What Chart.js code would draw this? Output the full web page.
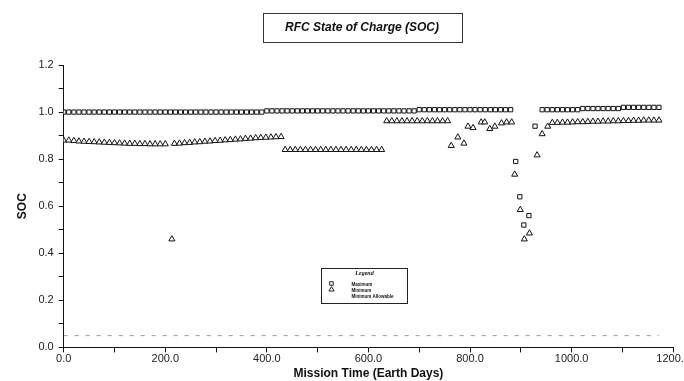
<!DOCTYPE html>
<html>
<head>
<meta charset="utf-8">
<script src="https://cdn.jsdelivr.net/npm/chart.js@4.4.1/dist/chart.umd.min.js"></script>
<style>
  html, body { margin: 0; padding: 0; background: #fff; overflow: hidden; }
  #wrap { width: 690px; height: 381px; }
</style>
</head>
<body>
<div id="wrap"><canvas id="socChart"></canvas></div>
<script>
// values (days, state of charge)
const maxDays = [
  0, 10, 20, 30, 40, 50, 60, 70, 80, 90, 100, 110, 120, 130, 140, 150, 160, 170, 180, 190,
  200, 210, 220, 230, 240, 250, 260, 270, 280, 290, 300, 310, 320, 330, 340, 350, 360, 370, 380, 390,
  400, 410, 420, 430, 440, 450, 460, 470, 480, 490, 500, 510, 520, 530, 540, 550, 560, 570, 580, 590,
  600, 610, 620, 630, 640, 650, 660, 670, 680, 690, 700, 710, 720, 730, 740, 750, 760, 770, 780, 790,
  800, 810, 820, 830, 840, 850, 860, 870, 880,
  890, 898, 906, 916, 928,
  942, 952, 962, 972, 982, 992, 1002, 1012, 1022, 1032, 1042, 1052, 1062, 1072, 1082, 1092,
  1102, 1112, 1122, 1132, 1142, 1152, 1162, 1172
];
const maxSoc = [
  1.0, 1.0, 1.0, 1.0, 1.0, 1.0, 1.0, 1.0, 1.0, 1.0, 1.0, 1.0, 1.0, 1.0, 1.0, 1.0, 1.0, 1.0, 1.0, 1.0,
  1.0, 1.0, 1.0, 1.0, 1.0, 1.0, 1.0, 1.0, 1.0, 1.0, 1.0, 1.0, 1.0, 1.0, 1.0, 1.0, 1.0, 1.0, 1.0, 1.0,
  1.005, 1.005, 1.005, 1.005, 1.005, 1.005, 1.005, 1.005, 1.005, 1.005, 1.005, 1.005, 1.005, 1.005, 1.005, 1.005, 1.005, 1.005, 1.005, 1.005,
  1.005, 1.005, 1.005, 1.005, 1.005, 1.005, 1.005, 1.005, 1.005, 1.005, 1.01, 1.01, 1.01, 1.01, 1.01, 1.01, 1.01, 1.01, 1.01, 1.01,
  1.01, 1.01, 1.01, 1.01, 1.01, 1.01, 1.01, 1.01, 1.01,
  0.79, 0.64, 0.52, 0.56, 0.94,
  1.01, 1.01, 1.01, 1.01, 1.01, 1.01, 1.01, 1.01, 1.015, 1.015, 1.015, 1.015, 1.015, 1.015, 1.015, 1.015,
  1.02, 1.02, 1.02, 1.02, 1.02, 1.02, 1.02, 1.02
];
const minDays = [
  0, 10, 20, 30, 40, 50, 60, 70, 80, 90, 100, 110, 120, 130, 140, 150, 160, 170, 180, 190, 200,
  213,
  218, 228, 238, 248, 258, 268, 278, 288, 298, 308, 318, 328, 338, 348, 358, 368, 378, 388, 398, 408, 418, 428,
  436, 446, 456, 466, 476, 486, 496, 506, 516, 526, 536, 546, 556, 566, 576, 586, 596, 606, 616, 626,
  636, 646, 656, 666, 676, 686, 696, 706, 716, 726, 736, 746, 756,
  763, 776, 788, 796, 806, 822, 829, 839, 849, 862, 872, 882,
  888, 899, 907, 917, 932, 942, 953,
  962, 972, 982, 992, 1002, 1012, 1022, 1032, 1042, 1052, 1062, 1072, 1082, 1092, 1102, 1112,
  1122, 1132, 1142, 1152, 1162, 1172
];
const minSoc = [
  0.88, 0.88, 0.878, 0.876, 0.875, 0.874, 0.873, 0.872, 0.871, 0.87, 0.869, 0.868, 0.867, 0.866, 0.866, 0.865, 0.865, 0.864, 0.864, 0.864, 0.864,
  0.46,
  0.866, 0.867, 0.869, 0.87, 0.872, 0.873, 0.875, 0.876, 0.878, 0.879, 0.881, 0.882, 0.884, 0.885, 0.887, 0.888, 0.89, 0.891, 0.892, 0.893, 0.894, 0.895,
  0.84, 0.84, 0.84, 0.84, 0.84, 0.84, 0.84, 0.84, 0.84, 0.84, 0.84, 0.84, 0.84, 0.84, 0.84, 0.84, 0.84, 0.84, 0.84, 0.84,
  0.962, 0.962, 0.962, 0.962, 0.962, 0.962, 0.962, 0.962, 0.962, 0.962, 0.962, 0.962, 0.962,
  0.857, 0.893, 0.867, 0.939, 0.933, 0.957, 0.957, 0.929, 0.939, 0.953, 0.957, 0.957,
  0.735, 0.585, 0.46, 0.485, 0.817, 0.907, 0.939,
  0.955, 0.955, 0.956, 0.956, 0.957, 0.958, 0.958, 0.959, 0.96, 0.96, 0.961, 0.961, 0.962, 0.962, 0.963, 0.963,
  0.964, 0.964, 0.965, 0.965, 0.965, 0.965
];
const allowDays = [0, 1172];
const allowSoc = [0.05, 0.05];

const seriesNames = ['Maximum', 'Minimum', 'Minimum Allowable'];
const chartTitle = 'RFC State of Charge (SOC)';

function pts(xs, ys) {
  return xs.map((d, i) => ({ x: d, y: ys[i] }));
}

// boxed title at the top
const titleBox = {
  id: 'titleBox',
  afterDraw(chart) {
    const ctx = chart.ctx;
    ctx.save();
    ctx.font = 'italic bold 12px "Liberation Sans", Arial, sans-serif';
    ctx.fillStyle = '#111';
    ctx.textAlign = 'center';
    ctx.textBaseline = 'middle';
    ctx.fillText(chartTitle, 362, 28);
    ctx.strokeStyle = '#333';
    ctx.lineWidth = 1;
    ctx.strokeRect(263.5, 13.5, 199, 29);
    ctx.restore();
  }
};

// small legend box inside the plot
const legendBox = {
  id: 'legendBox',
  afterDraw(chart) {
    const ctx = chart.ctx;
    const x0 = 321.5, y0 = 268.5;
    ctx.save();
    ctx.strokeStyle = '#222';
    ctx.lineWidth = 1;
    ctx.fillStyle = '#fff';
    ctx.fillRect(x0, y0, 86, 35);
    ctx.strokeRect(x0, y0, 86, 35);
    Chart.helpers.drawPoint(ctx, { pointStyle: 'rect', radius: 2.5, borderWidth: 1 }, x0 + 10, y0 + 15);
    Chart.helpers.drawPoint(ctx, { pointStyle: 'triangle', radius: 3, borderWidth: 1 }, x0 + 10, y0 + 21);
    ctx.fillStyle = '#111';
    ctx.textBaseline = 'middle';
    ctx.textAlign = 'center';
    ctx.font = 'italic bold 6px "Liberation Serif", serif';
    ctx.fillText('Legend', x0 + 43, y0 + 5);
    ctx.textAlign = 'left';
    ctx.font = 'bold 4.5px "Liberation Sans", sans-serif';
    const ds = chart.data.datasets;
    ctx.fillText(ds[0].label, x0 + 30, y0 + 16);
    ctx.fillText(ds[1].label, x0 + 30, y0 + 22);
    ctx.fillText(ds[2].label, x0 + 30, y0 + 28);
    ctx.restore();
  }
};

const ctx = document.getElementById('socChart').getContext('2d');

const socChart = new Chart(ctx, {
  type: 'scatter',
  data: {
    datasets: [{
      label: seriesNames[0],
      data: pts(maxDays, maxSoc),
      pointStyle: 'rect',
      pointRadius: 3,
      borderColor: '#111',
      backgroundColor: '#fff',
      borderWidth: 1
    }, {
      label: seriesNames[1],
      data: pts(minDays, minSoc),
      pointStyle: 'triangle',
      pointRadius: 3.5,
      borderColor: '#111',
      backgroundColor: '#fff',
      borderWidth: 1
    }, {
      label: seriesNames[2],
      type: 'line',
      data: pts(allowDays, allowSoc),
      showLine: true,
      pointRadius: 0,
      borderColor: '#999',
      borderWidth: 1,
      borderDash: [4, 7]
    }]
  },
  options: {
    responsive: true,
    maintainAspectRatio: false,
    animation: false,
    layout: { padding: { top: 65, left: 15, right: 0, bottom: 0 } },
    plugins: {
      legend: { display: false },
      title: { display: false },
      tooltip: { enabled: false }
    },
    scales: {
      x: {
        type: 'linear',
        min: 0,
        max: 1200,
        ticks: {
          stepSize: 100,
          color: '#222',
          font: { family: '"Liberation Sans", Arial, sans-serif', size: 11 },
          maxRotation: 0,
          autoSkip: false,
          padding: 0,
          callback: function (v) { return v % 200 === 0 ? v.toFixed(1) : ''; }
        },
        grid: { drawOnChartArea: false, drawTicks: true, tickLength: 5, color: '#111' },
        border: { display: true, color: '#111', width: 1 },
        title: {
          display: true,
          text: 'Mission Time (Earth Days)',
          color: '#111',
          font: { family: '"Liberation Sans", Arial, sans-serif', size: 12, weight: 'bold' },
          padding: { top: 1, bottom: 0 }
        }
      },
      y: {
        min: 0,
        max: 1.2,
        ticks: {
          stepSize: 0.1,
          color: '#222',
          font: { family: '"Liberation Sans", Arial, sans-serif', size: 11 },
          autoSkip: false,
          padding: 5,
          callback: function (v) {
            const k = Math.round(v * 10);
            return k % 2 === 0 ? (k / 10).toFixed(1) : '';
          }
        },
        grid: { drawOnChartArea: false, drawTicks: true, tickLength: 5, color: '#111' },
        border: { display: true, color: '#111', width: 1 },
        title: {
          display: true,
          text: 'SOC',
          color: '#111',
          font: { family: '"Liberation Sans", Arial, sans-serif', size: 12, weight: 'bold' },
          padding: { top: 0, bottom: 4 }
        }
      }
    }
  },
  plugins: [titleBox, legendBox]
});
</script>
</body>
</html>
